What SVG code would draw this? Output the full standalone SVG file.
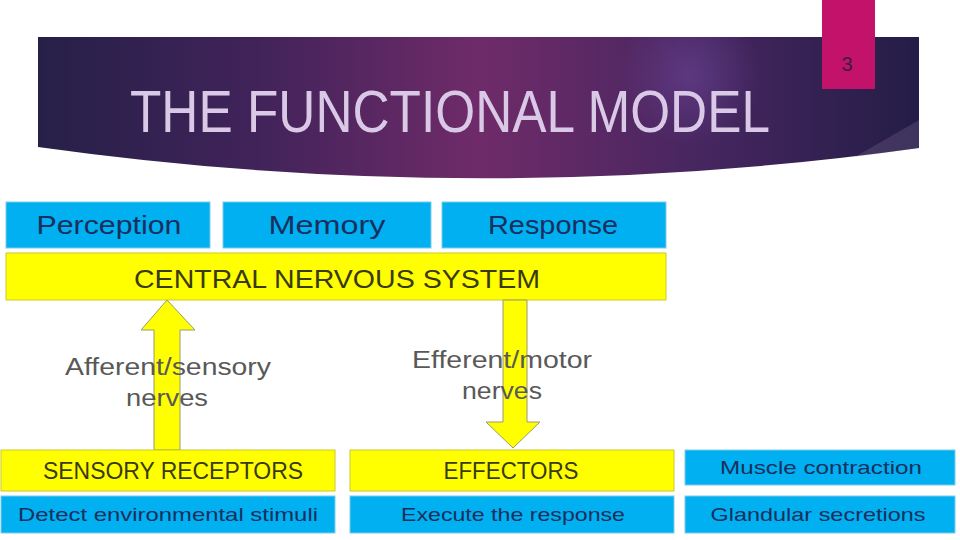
<svg xmlns="http://www.w3.org/2000/svg" width="960" height="540" viewBox="0 0 960 540">
  <defs>
    <linearGradient id="ban" x1="0" y1="0" x2="1" y2="0">
      <stop offset="0" stop-color="#262048"/>
      <stop offset="0.25" stop-color="#41235a"/>
      <stop offset="0.5" stop-color="#6f2b69"/>
      <stop offset="0.75" stop-color="#472660"/>
      <stop offset="1" stop-color="#241d47"/>
    </linearGradient>
    <radialGradient id="glow" cx="690" cy="75" r="70" gradientUnits="userSpaceOnUse">
      <stop offset="0" stop-color="#6a4496" stop-opacity="0.6"/>
      <stop offset="1" stop-color="#6a4496" stop-opacity="0"/>
    </radialGradient>
    <style>
      .blue { fill: #00b0f0; stroke: #7fcbe8; stroke-width: 1; }
      .yel { fill: #ffff00; stroke: #c9c930; stroke-width: 1; }
      .tb { font-family: "Liberation Sans", Arial, sans-serif; fill: #1a2f5e; text-anchor: middle; }
      .ty { font-family: "Liberation Sans", Arial, sans-serif; fill: #3a3a10; text-anchor: middle; }
      .lab { font-family: "Liberation Sans", Arial, sans-serif; fill: #595959; text-anchor: middle; font-size: 23px; }
      .arrow { fill: #ffff00; stroke: #9a9a70; stroke-width: 1; }
    </style>
  </defs>

  <g id="banner">
    <path d="M38,37 L919,37 L919,148 Q480,209 38,147 Z" fill="url(#ban)"/>
    <path d="M38,37 L919,37 L919,148 Q480,209 38,147 Z" fill="url(#glow)"/>
    <path d="M919,120 L919,148 L855,157 Z" fill="#8a7aa0" opacity="0.25"/>
    <text x="450" y="132" font-family="'Liberation Sans', Arial, sans-serif" font-size="60" fill="#d9c9e6" text-anchor="middle" textLength="640" lengthAdjust="spacingAndGlyphs">THE FUNCTIONAL MODEL</text>
  </g>

  <g id="slide-number">
    <rect x="822" y="0" width="53" height="89" fill="#c2126a"/>
    <text x="847" y="71" font-family="'Liberation Sans', Arial, sans-serif" font-size="20" fill="#3e1a44" text-anchor="middle">3</text>
  </g>

  <g id="perception">
    <rect class="blue" x="6" y="202" width="204" height="46"/>
    <text class="tb" x="109" y="234" font-size="26" textLength="145" lengthAdjust="spacingAndGlyphs">Perception</text>
  </g>
  <g id="memory">
    <rect class="blue" x="223" y="202" width="208" height="46"/>
    <text class="tb" x="327" y="234" font-size="26" textLength="117" lengthAdjust="spacingAndGlyphs">Memory</text>
  </g>
  <g id="response">
    <rect class="blue" x="442" y="202" width="224" height="46"/>
    <text class="tb" x="553" y="234" font-size="26" textLength="130" lengthAdjust="spacingAndGlyphs">Response</text>
  </g>
  <g id="cns">
    <rect class="yel" x="6" y="253" width="660" height="47"/>
    <text class="ty" x="337" y="288" font-size="26" textLength="406" lengthAdjust="spacingAndGlyphs">CENTRAL NERVOUS SYSTEM</text>
  </g>

  <g id="connectors">
    <polygon class="arrow" points="167,300 195,330 180,330 180,450 154,450 154,330 141,330"/>
    <polygon class="arrow" points="503,300 527,300 527,422 540,422 513,448 486,422 503,422"/>
  </g>

  <g id="connector-labels">
    <text class="lab" x="168" y="375" textLength="206" lengthAdjust="spacingAndGlyphs">Afferent/sensory</text>
    <text class="lab" x="167" y="406" textLength="82" lengthAdjust="spacingAndGlyphs">nerves</text>
    <text class="lab" x="502" y="368" textLength="180" lengthAdjust="spacingAndGlyphs">Efferent/motor</text>
    <text class="lab" x="502" y="399" textLength="80" lengthAdjust="spacingAndGlyphs">nerves</text>
  </g>

  <g id="sensory-receptors">
    <rect class="yel" x="1" y="450" width="334" height="41"/>
    <text class="ty" x="173" y="479" font-size="23" textLength="260" lengthAdjust="spacingAndGlyphs">SENSORY RECEPTORS</text>
  </g>
  <g id="effectors">
    <rect class="yel" x="350" y="450" width="324" height="41"/>
    <text class="ty" x="511" y="479" font-size="23" textLength="135" lengthAdjust="spacingAndGlyphs">EFFECTORS</text>
  </g>
  <g id="muscle-contraction">
    <rect class="blue" x="685" y="450" width="270" height="35"/>
    <text class="tb" x="821" y="474" font-size="19" textLength="202" lengthAdjust="spacingAndGlyphs">Muscle contraction</text>
  </g>
  <g id="detect">
    <rect class="blue" x="1" y="496" width="334" height="37"/>
    <text class="tb" x="168" y="521" font-size="19" textLength="300" lengthAdjust="spacingAndGlyphs">Detect environmental stimuli</text>
  </g>
  <g id="execute">
    <rect class="blue" x="350" y="496" width="324" height="37"/>
    <text class="tb" x="513" y="521" font-size="19" textLength="224" lengthAdjust="spacingAndGlyphs">Execute the response</text>
  </g>
  <g id="glandular">
    <rect class="blue" x="685" y="496" width="270" height="37"/>
    <text class="tb" x="818" y="521" font-size="19" textLength="215" lengthAdjust="spacingAndGlyphs">Glandular secretions</text>
  </g>
</svg>
